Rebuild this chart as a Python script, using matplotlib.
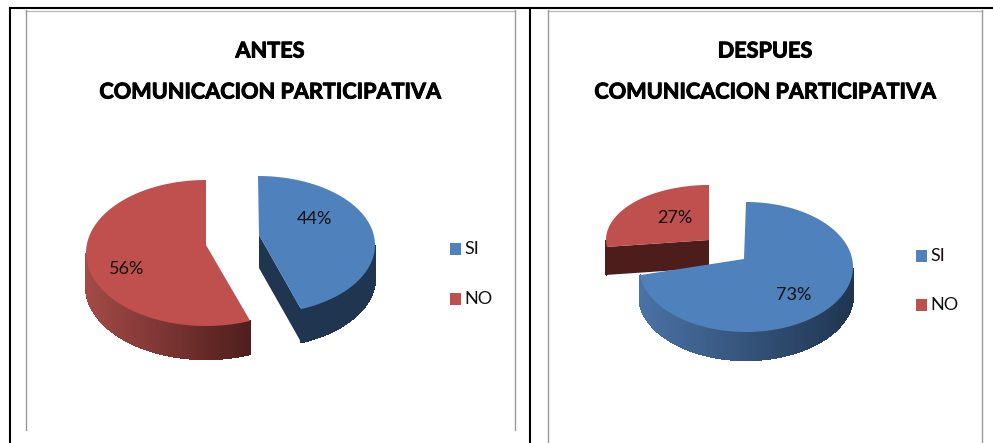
import numpy as np
import matplotlib
matplotlib.use("Agg")
import matplotlib.pyplot as plt
import matplotlib.patheffects as pe
from matplotlib.colors import to_rgb

# Data
categories = ["SI", "NO"]
antes = [44, 56]
despues = [73, 27]
titulo = "COMUNICACION PARTICIPATIVA"
blue = "#4F81BD"
red = "#C0504D"

plt.rcParams["font.family"] = ["Lato", "DejaVu Sans"]

fig = plt.figure(figsize=(9.93, 4.43), dpi=100)
ax = fig.add_axes([0, 0, 1, 1])
ax.set_xlim(0, 993)
ax.set_ylim(443, 0)
ax.axis("off")


def arc(t, cx, cy, rx, ry):
    r = np.radians(t)
    return cx + rx * np.cos(r), cy - ry * np.sin(r)


def mix(c1, c2, f):
    a, b = np.array(to_rgb(c1)), np.array(to_rgb(c2))
    return tuple(a + (b - a) * f)


def draw_slice(t1, t2, ell, apex, depth, color, wall=None, cut=None):
    cx, cy, rx, ry = ell
    t = np.linspace(t1, t2, 200)
    x, y = arc(t, cx, cy, rx, ry)

    # cut face towards the viewer
    if cut:
        ex, ey = x[-1] if cut == "end" else x[0], y[-1] if cut == "end" else y[0]
        ax.fill([apex[0], ex, ex, apex[0]], [apex[1], ey, ey + depth, apex[1] + depth],
                color=wall[1], lw=0, zorder=2)

    # outer wall, only the front half of the ellipse shows
    front = np.sin(np.radians(t)) < 0
    if wall and front.any():
        fx, fy = x[front], y[front]
        lo, hi = fx.min(), fx.max()
        for i in range(len(fx) - 1):
            f = ((fx[i] + fx[i + 1]) / 2 - lo) / (hi - lo)
            c = mix(wall[0], wall[1], f)
            ax.fill([fx[i], fx[i + 1], fx[i + 1], fx[i]],
                    [fy[i], fy[i + 1], fy[i + 1] + depth, fy[i] + depth],
                    facecolor=c, edgecolor=c, lw=1, antialiased=False, zorder=2)

    ax.fill(np.r_[apex[0], x], np.r_[apex[1], y], color=color, lw=0, zorder=3)


def draw_panel(values, panel_title, title_x, ells, apexes, depth, walls, cuts, label_xy, leg_x, leg_y):
    t = 90
    for i, v in enumerate(values):
        t2 = t - v * 3.6
        draw_slice(t, t2, ells[i], apexes[i], depth, [blue, red][i], walls[i], cuts[i])
        ax.text(label_xy[i][0], label_xy[i][1], f"{v}%", fontsize=13, ha="center",
                va="center", color="#111111", zorder=4)
        t = t2

    # Lato bold is lighter than the original face, a thin stroke thickens it
    thick = [pe.withStroke(linewidth=0.7, foreground="black")]
    ax.text(title_x, 51, panel_title, fontsize=15.6, fontweight="bold", ha="center",
            va="center", path_effects=thick)
    ax.text(title_x, 92, titulo, fontsize=15.6, fontweight="bold", ha="center",
            va="center", path_effects=thick)

    for i, name in enumerate(categories):
        ax.fill([leg_x, leg_x + 11, leg_x + 11, leg_x],
                [leg_y[i] - 6, leg_y[i] - 6, leg_y[i] + 6, leg_y[i] + 6],
                color=[blue, red][i], lw=0)
        ax.text(leg_x + 14, leg_y[i], name, fontsize=13, ha="left", va="center", color="#111111")


# Cell borders of the table the charts sit in
ax.plot([10, 993], [8, 8], color="black", lw=1.5)
ax.plot([10, 10], [8, 443], color="black", lw=1.5)
ax.plot([530, 530], [8, 443], color="black", lw=1.5)
ax.plot([26, 515], [10.5, 10.5], color="#BBBBBB", lw=1)
ax.plot([548, 982], [10.5, 10.5], color="#BBBBBB", lw=1)
ax.plot([26, 26], [10, 430], color="#999999", lw=1)
ax.plot([515, 515], [10, 430], color="#999999", lw=1)
ax.plot([548, 548], [10, 443], color="#999999", lw=1)
ax.plot([982, 982], [10, 443], color="#999999", lw=1)

draw_panel(antes, "ANTES", 270,
           ells=[(258, 245, 117, 69), (206, 253, 120, 73)],
           apexes=[(259, 235), (206, 245)],
           depth=33,
           walls=[("#1F3550", "#1F3550"), ("#A34A47", "#4E1E1C")],
           cuts=["end", None],
           label_xy=[(314, 219), (127, 269)],
           leg_x=450, leg_y=[249, 299])

draw_panel(despues, "DESPUES", 765,
           ells=[(746, 267, 107, 65), (709, 240, 103, 55)],
           apexes=[(744, 259), (709, 240)],
           depth=28,
           walls=[("#4A72A5", "#1F3550"), ("#4D1D1B", "#4D1D1B")],
           cuts=[None, "start"],
           label_xy=[(794, 295), (675, 218)],
           leg_x=916, leg_y=[256, 305])

fig.savefig("out.png", dpi=100, facecolor="white")
